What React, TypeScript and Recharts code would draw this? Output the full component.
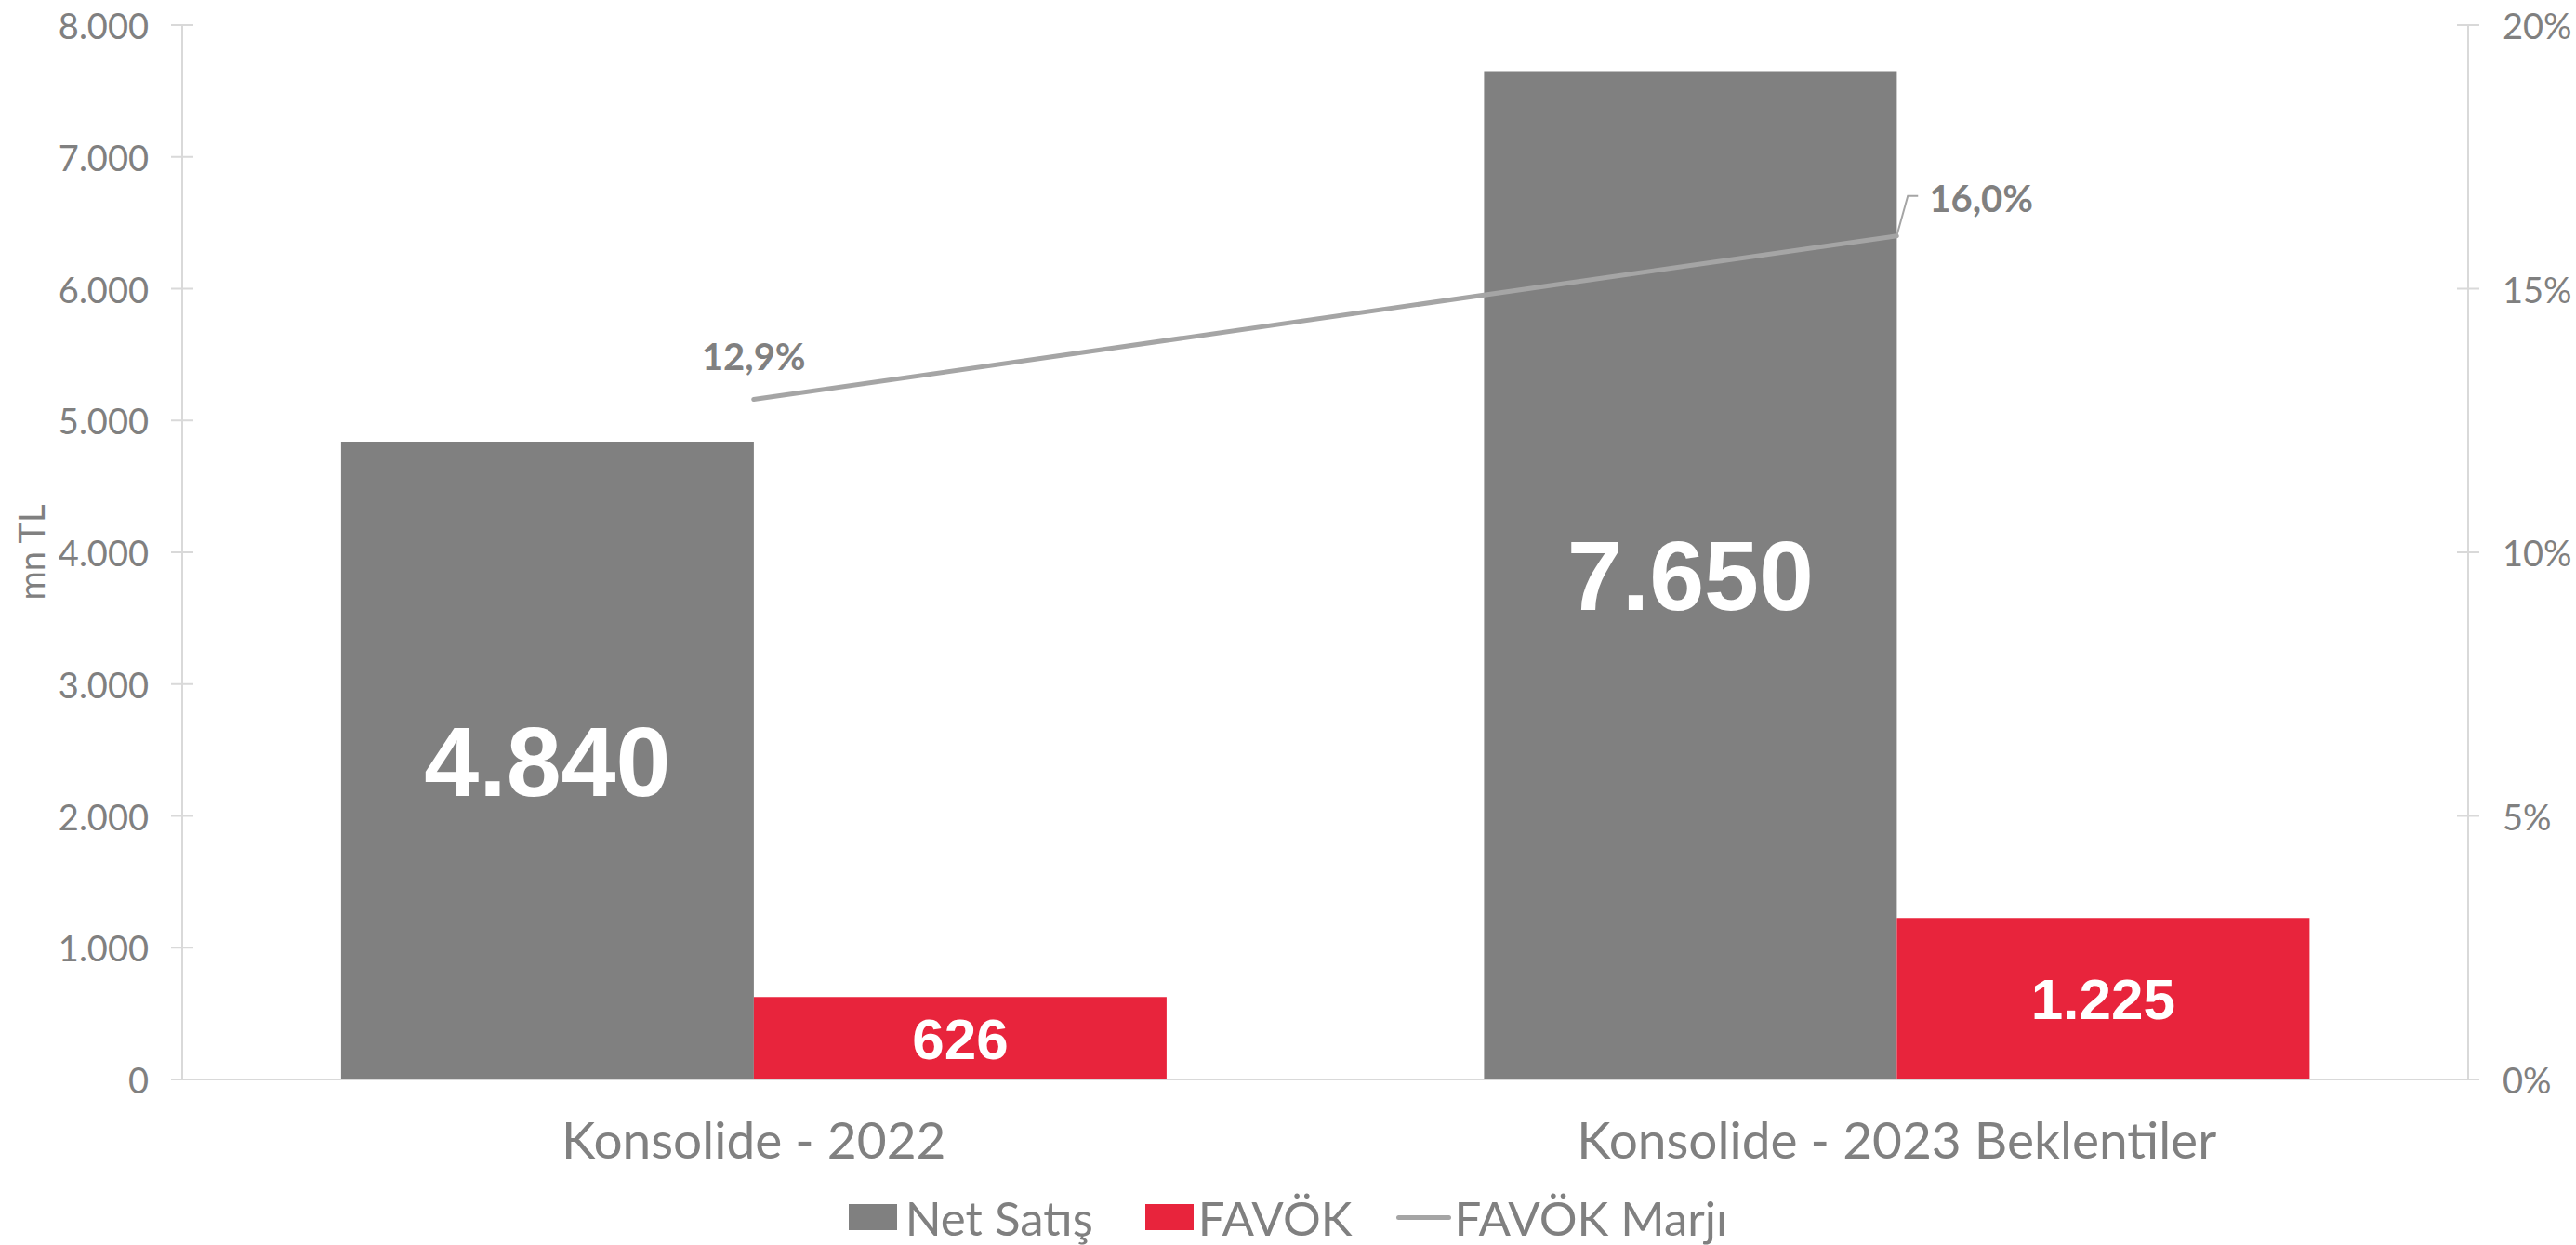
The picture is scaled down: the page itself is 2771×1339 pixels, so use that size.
import React from 'react';
import { ComposedChart, Bar, Line, XAxis, YAxis, Legend, LabelList } from 'recharts';

const categories = ['Konsolide - 2022', 'Konsolide - 2023 Beklentiler'];
const netSatis = [4840, 7650];
const favok = [626, 1225];
const favokMarji = [12.9, 16.0];
const leftTicks = [0, 1000, 2000, 3000, 4000, 5000, 6000, 7000, 8000];
const rightTicks = [0, 5, 10, 15, 20];

const data = categories.map((name, i) => ({
  name,
  net: netSatis[i],
  favok: favok[i],
  marj: favokMarji[i],
}));

const TEXT = '#808080';
const AXIS = '#D9D9D9';
const GRAY = '#808080';
const RED = '#E8243C';
const LINE = '#A5A5A5';
const FONT = 'Lato, "Open Sans", sans-serif';
const NUMFONT = '"Liberation Sans", Arial, sans-serif';

const fmtThousands = (v: number) => String(Math.round(v)).replace(/\B(?=(\d{3})+(?!\d))/g, '.');
const fmtPct = (v: number) => v.toFixed(1).replace('.', ',') + '%';

const LeftTick = (props: any) => {
  const { x, y, payload } = props;
  return (
    <g>
      <line x1={x - 12} x2={x + 12} y1={y} y2={y} stroke={AXIS} strokeWidth={2} />
      <text x={x - 36} y={y} textAnchor="end" dominantBaseline="central" fill={TEXT} fontSize={38} fontFamily={FONT}>
        {fmtThousands(payload.value)}
      </text>
    </g>
  );
};

const RightTick = (props: any) => {
  const { x, y, payload } = props;
  return (
    <g>
      <line x1={x - 12} x2={x + 12} y1={y} y2={y} stroke={AXIS} strokeWidth={2} />
      <text x={x + 37} y={y} textAnchor="start" dominantBaseline="central" fill={TEXT} fontSize={38} fontFamily={FONT}>
        {`${payload.value}%`}
      </text>
    </g>
  );
};

const CatTick = (props: any) => {
  const { x, y, payload } = props;
  return (
    <text x={x} y={y + 64} textAnchor="middle" dominantBaseline="central" fill={TEXT} fontSize={55} fontFamily={FONT}>
      {payload.value}
    </text>
  );
};

const MarginLabel = (props: any) => {
  const { x, y, value, index } = props;
  if (index === 0) {
    return (
      <text x={x} y={y - 47} textAnchor="middle" dominantBaseline="central" fill={TEXT} fontSize={40} fontWeight={700} fontFamily={FONT}>
        {fmtPct(value)}
      </text>
    );
  }
  return (
    <g>
      <path d={`M${x},${y} L${x + 12},${y - 43} L${x + 23},${y - 43}`} fill="none" stroke={LINE} strokeWidth={2} />
      <text x={x + 35} y={y - 41} textAnchor="start" dominantBaseline="central" fill={TEXT} fontSize={40} fontWeight={700} fontFamily={FONT}>
        {fmtPct(value)}
      </text>
    </g>
  );
};

const YLabel = (props: any) => {
  const vb = props.viewBox || {};
  const cx = vb.x + 33;
  const cy = vb.y + vb.height / 2;
  return (
    <text x={cx} y={cy} transform={`rotate(-90 ${cx} ${cy})`} textAnchor="middle" dominantBaseline="central" fill={TEXT} fontSize={38} fontFamily={FONT}>
      mn TL
    </text>
  );
};

const CustomLegend = () => (
  <div
    style={{
      height: 60,
      display: 'flex',
      alignItems: 'center',
      justifyContent: 'center',
      fontFamily: FONT,
      fontSize: 51,
      color: TEXT,
      width: '100%',
    }}
  >
    <span style={{ display: 'inline-block', width: 52, height: 28, background: GRAY, marginRight: 9 }} />
    <span style={{ marginRight: 56 }}>Net Satış</span>
    <span style={{ display: 'inline-block', width: 52, height: 28, background: RED, marginRight: 5 }} />
    <span style={{ marginRight: 47 }}>FAVÖK</span>
    <span style={{ display: 'inline-block', width: 59, height: 5, borderRadius: 3, background: LINE, marginRight: 4 }} />
    <span>FAVÖK Marjı</span>
  </div>
);

export default function App() {
  return (
    <div style={{ width: 2771, height: 1339, background: '#fff' }}>
      <style>{`body{margin:0;}`}</style>
      <ComposedChart
        width={2771}
        height={1339}
        data={data}
        margin={{ top: 27, right: 0, bottom: 0, left: 0 }}
        barCategoryGap="13.9%"
        barGap={0}
      >
        <XAxis
          dataKey="name"
          height={118}
          axisLine={{ stroke: AXIS, strokeWidth: 2 }}
          tickLine={false}
          tickSize={0}
          tickMargin={0}
          tick={<CatTick />}
        />
        <YAxis
          yAxisId="left"
          orientation="left"
          width={196}
          domain={[0, 8000]}
          ticks={leftTicks}
          axisLine={{ stroke: AXIS, strokeWidth: 2 }}
          tickLine={false}
          tickSize={0}
          tickMargin={0}
          tick={<LeftTick />}
          label={<YLabel />}
          interval={0}
        />
        <YAxis
          yAxisId="right"
          orientation="right"
          width={116}
          domain={[0, 20]}
          ticks={rightTicks}
          axisLine={{ stroke: AXIS, strokeWidth: 2 }}
          tickLine={false}
          tickSize={0}
          tickMargin={0}
          tick={<RightTick />}
          interval={0}
        />
        <Legend verticalAlign="bottom" content={<CustomLegend />} />
        <Bar yAxisId="left" dataKey="net" name="Net Satış" fill={GRAY} isAnimationActive={false}>
          <LabelList
            dataKey="net"
            position="center"
            fill="#FFFFFF"
            fontSize={106}
            fontWeight={700}
            fontFamily={NUMFONT}
            formatter={(v: any) => fmtThousands(Number(v))}
          />
        </Bar>
        <Bar yAxisId="left" dataKey="favok" name="FAVÖK" fill={RED} isAnimationActive={false}>
          <LabelList
            dataKey="favok"
            position="center"
            fill="#FFFFFF"
            fontSize={62}
            fontWeight={700}
            fontFamily={NUMFONT}
            formatter={(v: any) => fmtThousands(Number(v))}
          />
        </Bar>
        <Line
          yAxisId="right"
          dataKey="marj"
          name="FAVÖK Marjı"
          stroke={LINE}
          strokeWidth={5}
          strokeLinecap="round"
          dot={false}
          activeDot={false}
          isAnimationActive={false}
        >
          <LabelList dataKey="marj" content={<MarginLabel />} />
        </Line>
      </ComposedChart>
    </div>
  );
}
